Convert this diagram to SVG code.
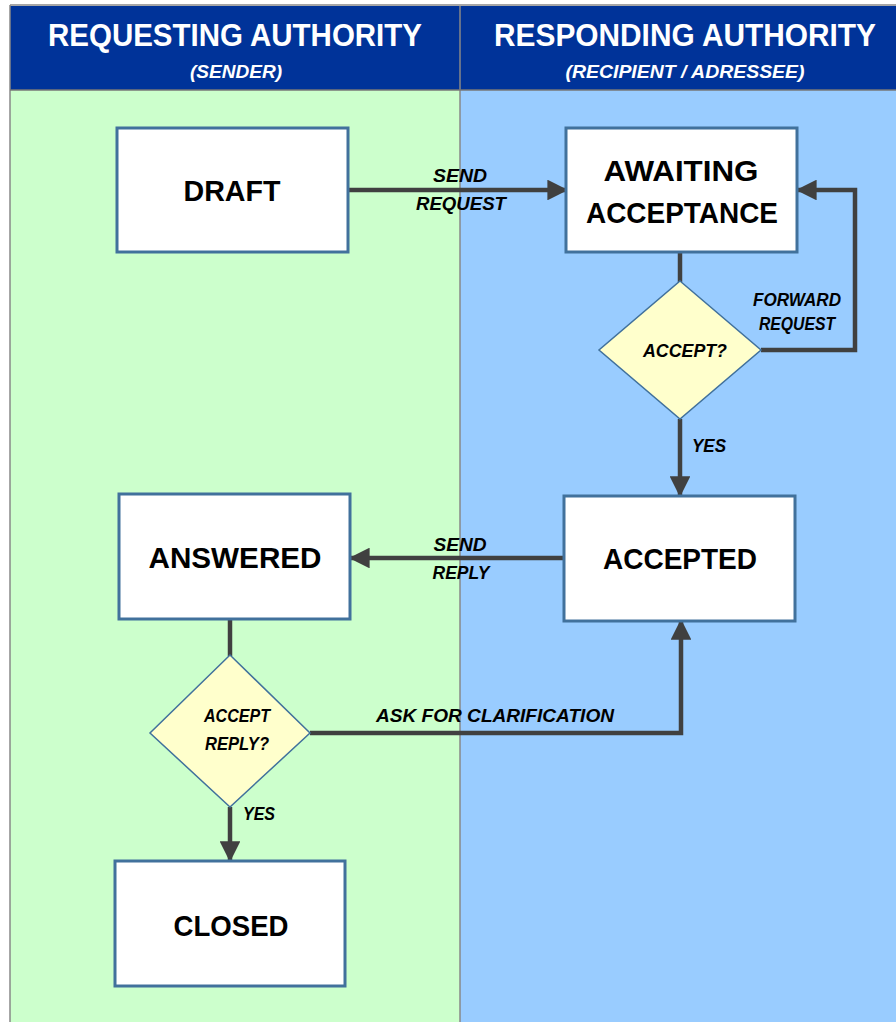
<svg xmlns="http://www.w3.org/2000/svg" width="896" height="1022" viewBox="0 0 896 1022">
<defs>
<style>
.node{fill:#fff;stroke:#41719C;stroke-width:3}
.dia{fill:#FFFFCC;stroke:#41719C;stroke-width:1.5}
.con{fill:none;stroke:#404040;stroke-width:4.5}
.nt{font-family:"Liberation Sans",Arial,sans-serif;font-weight:bold;font-size:30px;fill:#000;text-anchor:middle}
.lb{font-family:"Liberation Sans",Arial,sans-serif;font-weight:bold;font-style:italic;font-size:19px;fill:#000;text-anchor:middle}
.ht{font-family:"Liberation Sans",Arial,sans-serif;font-weight:bold;font-size:31px;fill:#fff;text-anchor:middle}
.hs{font-family:"Liberation Sans",Arial,sans-serif;font-style:italic;font-weight:bold;font-size:19px;fill:#fff;text-anchor:middle}
</style>
<marker id="arr" viewBox="0 0 10 10" refX="9" refY="5" markerWidth="4.6" markerHeight="4.6" orient="auto" markerUnits="strokeWidth">
<path d="M0,0 L10,5 L0,10 z" fill="#404040"/>
</marker>
</defs>
<rect width="896" height="1022" fill="#fff"/>
<g id="lanes">
<rect x="10" y="90" width="450" height="932" fill="#CCFFCC"/>
<rect x="460" y="90" width="436" height="932" fill="#99CCFF"/>
<rect x="10" y="6" width="886" height="84" fill="#003399"/>
<line x1="10" y1="5" x2="896" y2="5" stroke="#888" stroke-width="1.5"/>
<line x1="10" y1="5" x2="10" y2="1022" stroke="#888" stroke-width="1.5"/>
<line x1="460" y1="6" x2="460" y2="1022" stroke="#888" stroke-width="1.5"/>
<line x1="10" y1="90" x2="896" y2="90" stroke="#777" stroke-width="1.5"/>
<text class="ht" x="235" y="46" textLength="374" lengthAdjust="spacingAndGlyphs">REQUESTING AUTHORITY</text>
<text class="hs" x="236" y="78" textLength="92" lengthAdjust="spacingAndGlyphs">(SENDER)</text>
<text class="ht" x="685" y="46" textLength="382" lengthAdjust="spacingAndGlyphs">RESPONDING AUTHORITY</text>
<text class="hs" x="685" y="78" textLength="239" lengthAdjust="spacingAndGlyphs">(RECIPIENT / ADRESSEE)</text>
</g>
<g id="connectors">
<line class="con" x1="349" y1="190" x2="566" y2="190" marker-end="url(#arr)"/>
<line class="con" x1="680" y1="252" x2="680" y2="282"/>
<polyline class="con" points="761,350 855,350 855,190 798,190" marker-end="url(#arr)"/>
<line class="con" x1="680" y1="419" x2="680" y2="495" marker-end="url(#arr)"/>
<line class="con" x1="564" y1="558" x2="351" y2="558" marker-end="url(#arr)"/>
<line class="con" x1="230" y1="619" x2="230" y2="656"/>
<polyline class="con" points="310,733 681,733 681,621" marker-end="url(#arr)"/>
<line class="con" x1="230" y1="807" x2="230" y2="860" marker-end="url(#arr)"/>
<text class="lb" x="460" y="182" textLength="54" lengthAdjust="spacingAndGlyphs">SEND</text>
<text class="lb" x="461" y="210" textLength="90" lengthAdjust="spacingAndGlyphs">REQUEST</text>
<text class="lb" x="797" y="306" font-size="17" textLength="88" lengthAdjust="spacingAndGlyphs">FORWARD</text>
<text class="lb" x="797" y="330" font-size="17" textLength="76" lengthAdjust="spacingAndGlyphs">REQUEST</text>
<text class="lb" x="709" y="452" textLength="34" lengthAdjust="spacingAndGlyphs">YES</text>
<text class="lb" x="460" y="551" textLength="53" lengthAdjust="spacingAndGlyphs">SEND</text>
<text class="lb" x="461" y="579" textLength="57" lengthAdjust="spacingAndGlyphs">REPLY</text>
<text class="lb" x="495" y="722" textLength="238" lengthAdjust="spacingAndGlyphs">ASK FOR CLARIFICATION</text>
<text class="lb" x="259" y="820" textLength="32" lengthAdjust="spacingAndGlyphs">YES</text>
</g>
<g id="draft">
<rect class="node" x="117" y="128" width="231" height="124"/>
<text class="nt" x="232" y="201" textLength="97" lengthAdjust="spacingAndGlyphs">DRAFT</text>
</g>
<g id="awaiting">
<rect class="node" x="566" y="128" width="231" height="124"/>
<text class="nt" x="681" y="181" textLength="155" lengthAdjust="spacingAndGlyphs">AWAITING</text>
<text class="nt" x="682" y="223" textLength="192" lengthAdjust="spacingAndGlyphs">ACCEPTANCE</text>
</g>
<g id="accept">
<polygon class="dia" points="680,281 761,350 680,419 599,350"/>
<text class="lb" x="685" y="357" textLength="84" lengthAdjust="spacingAndGlyphs">ACCEPT?</text>
</g>
<g id="accepted">
<rect class="node" x="564" y="496" width="231" height="125"/>
<text class="nt" x="680" y="569" textLength="154" lengthAdjust="spacingAndGlyphs">ACCEPTED</text>
</g>
<g id="answered">
<rect class="node" x="119" y="494" width="231" height="125"/>
<text class="nt" x="235" y="568" textLength="173" lengthAdjust="spacingAndGlyphs">ANSWERED</text>
</g>
<g id="acceptreply">
<polygon class="dia" points="230,655 310,733 230,807 150,733"/>
<text class="lb" x="237" y="722" textLength="66" lengthAdjust="spacingAndGlyphs">ACCEPT</text>
<text class="lb" x="237" y="750" textLength="64" lengthAdjust="spacingAndGlyphs">REPLY?</text>
</g>
<g id="closed">
<rect class="node" x="115" y="861" width="230" height="125"/>
<text class="nt" x="231" y="936" textLength="115" lengthAdjust="spacingAndGlyphs">CLOSED</text>
</g>
</svg>
